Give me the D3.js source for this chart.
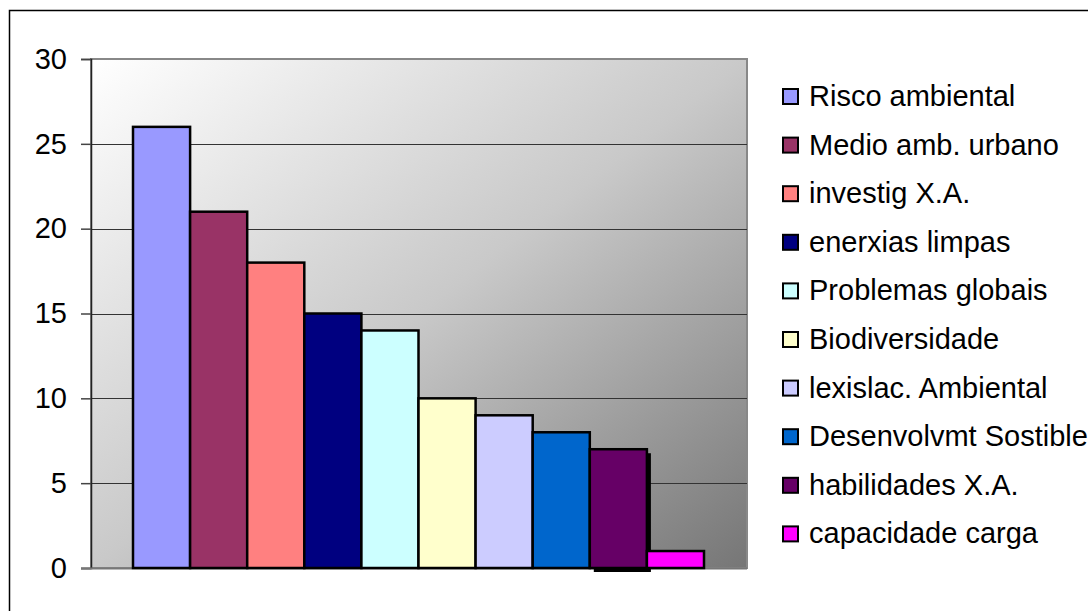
<!DOCTYPE html>
<html>
<head>
<meta charset="utf-8">
<script src="https://cdn.jsdelivr.net/npm/d3@7"></script>
<style>
  body { margin: 0; background: #fff; }
  text { font-family: Arial, "Liberation Sans", sans-serif; fill: #000; }
</style>
</head>
<body>
<div class="chart"></div>
<script>
const categories = ['Risco ambiental', 'Medio amb. urbano', 'investig X.A.', 'enerxias limpas',
  'Problemas globais', 'Biodiversidade', 'lexislac. Ambiental', 'Desenvolvmt Sostible',
  'habilidades X.A.', 'capacidade carga']
const values = [26, 21, 18, 15, 14, 10, 9, 8, 7, 1]
const yTicks = [0, 5, 10, 15, 20, 25, 30]

const colors = ['#9999FF', '#993366', '#FF8080', '#000080', '#CCFFFF',
  '#FFFFCC', '#CCCCFF', '#0066CC', '#660066', '#FF00FF']

const W = 1088, H = 611
const plot = { left: 91, top: 59, right: 747, bottom: 568 }

const svg = d3.select('.chart').append('svg')
  .attr('width', W)
  .attr('height', H)

//outer frame (runs off the right and bottom edges)
svg.append('rect')
  .attr('x', 9.5).attr('y', 10.5)
  .attr('width', 1090).attr('height', 620)
  .attr('fill', '#fff')
  .attr('stroke', '#000')
  .attr('stroke-width', 1.5)

//background gradient
const grad = svg.append('defs').append('linearGradient')
  .attr('id', 'bg')
  .attr('x1', 0).attr('y1', 0).attr('x2', 1).attr('y2', 1)
grad.append('stop').attr('offset', 0).attr('stop-color', '#ffffff')
grad.append('stop').attr('offset', 0.5).attr('stop-color', '#c9c9c9')
grad.append('stop').attr('offset', 1).attr('stop-color', '#767676')

//scales
const x = d3.scaleBand()
  .domain(categories)
  .range([plot.left + 42, plot.right - 43])
  .padding(0)

const y = d3.scaleLinear()
  .domain([0, 30])
  .range([plot.bottom, plot.top])

svg.append('rect')
  .attr('x', plot.left).attr('y', plot.top)
  .attr('width', plot.right - plot.left)
  .attr('height', plot.bottom - plot.top)
  .attr('fill', 'url(#bg)')
  .attr('stroke', '#888')
  .attr('stroke-width', 2)

//gridlines
svg.append('g')
  .selectAll('line')
  .data(yTicks.filter(d => d > 0 && d < 30))
  .enter().append('line')
    .attr('x1', plot.left).attr('x2', plot.right)
    .attr('y1', d => Math.round(y(d)) + 0.5)
    .attr('y2', d => Math.round(y(d)) + 0.5)
    .attr('stroke', '#333')
    .attr('stroke-width', 1.2)

//y axis
const yAxis = svg.append('g')
  .attr('transform', `translate(${plot.left},0)`)
  .call(d3.axisLeft(y).tickValues(yTicks).tickSize(10).tickPadding(14))
yAxis.select('.domain').attr('stroke', '#222').attr('stroke-width', 1.5)
yAxis.selectAll('.tick line').attr('stroke', '#444').attr('stroke-width', 1.5)
yAxis.selectAll('.tick text')
  .attr('font-size', '29px')
  .attr('font-family', 'Arial, "Liberation Sans", sans-serif')
  .attr('fill', '#000')

//bottom base line
svg.append('line')
  .attr('x1', plot.left - 10).attr('x2', plot.right)
  .attr('y1', plot.bottom + 0.5).attr('y2', plot.bottom + 0.5)
  .attr('stroke', '#777')
  .attr('stroke-width', 2)

//shadow artefact behind the 'habilidades' bar
const shadowCat = 'habilidades X.A.'
const shadowVal = values[categories.indexOf(shadowCat)]
svg.append('rect')
  .attr('x', x(shadowCat) + 4)
  .attr('y', y(shadowVal) + 4)
  .attr('width', x.bandwidth())
  .attr('height', y(0) - y(shadowVal))
  .attr('fill', '#000')

//bars
svg.append('g')
  .selectAll('rect')
  .data(categories)
  .enter().append('rect')
    .attr('x', d => x(d))
    .attr('y', (d, i) => y(values[i]))
    .attr('width', x.bandwidth())
    .attr('height', (d, i) => y(0) - y(values[i]))
    .attr('fill', (d, i) => colors[i])
    .attr('stroke', '#000')
    .attr('stroke-width', 2.5)

//legend
const legend = svg.append('g')
  .selectAll('g')
  .data(categories)
  .enter().append('g')
    .attr('transform', (d, i) => `translate(783, ${106 + i * 48.6})`)

legend.append('rect')
  .attr('x', 0).attr('y', -17)
  .attr('width', 15).attr('height', 15)
  .attr('fill', (d, i) => colors[i])
  .attr('stroke', '#000')
  .attr('stroke-width', 2)

legend.append('text')
  .attr('x', 26)
  .attr('y', 0)
  .attr('font-size', '29px')
  .text(d => d)
</script>
</body>
</html>
